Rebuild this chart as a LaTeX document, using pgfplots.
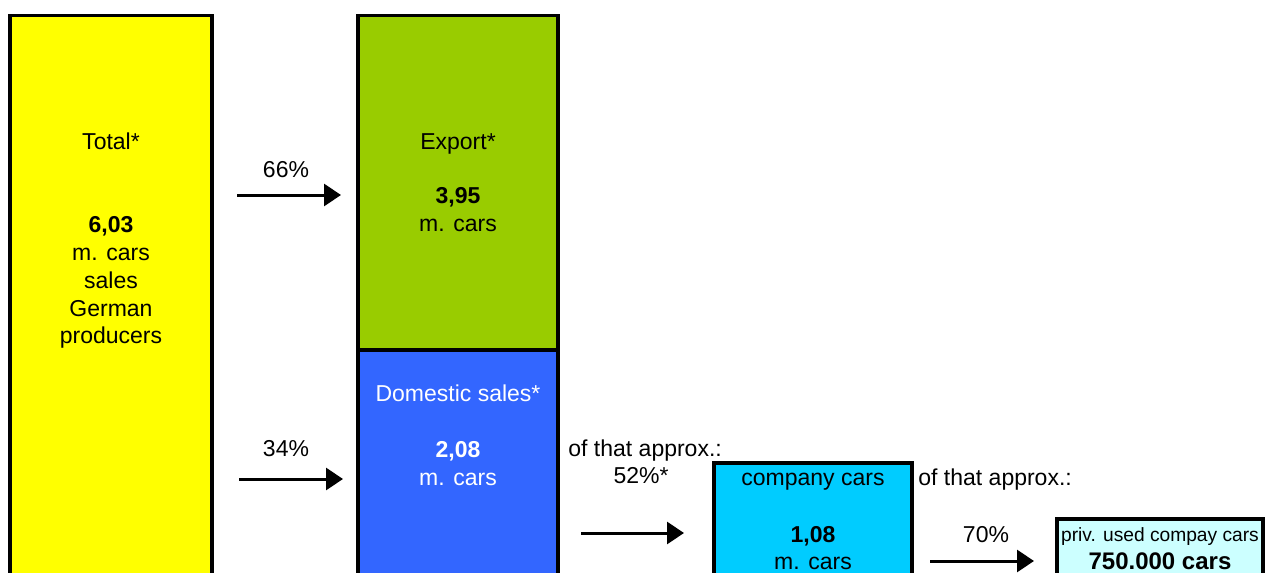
\documentclass[border=0pt]{standalone}
\usepackage{pgfplots}
\pgfplotsset{compat=1.18}
\usetikzlibrary{arrows.meta}
\usepackage{fontspec}
\setmainfont{Liberation Sans}
\definecolor{cTotal}{HTML}{FFFF00}
\definecolor{cExport}{HTML}{99CC00}
\definecolor{cDom}{HTML}{3366FF}
\definecolor{cComp}{HTML}{00CCFF}
\definecolor{cPriv}{HTML}{CCFFFF}
\begin{document}
\begin{tikzpicture}
\fontsize{11.5}{14}\selectfont
\begin{axis}[
  scale only axis, width=632.5pt, height=286.5pt,
  xmin=0, xmax=1265, ymin=0, ymax=573, y dir=reverse,
  axis lines=none, clip=true,
  every axis plot/.append style={line width=1.7pt, line join=miter},
]
% bars (pixel coordinates of the boxes: left, top, right, bottom beyond the frame)
\addplot[draw=black, fill=cTotal] coordinates {(10,590) (10,15.5) (212,15.5) (212,590)} -- cycle;
\addplot[draw=black, fill=cExport] coordinates {(358,350) (358,15.5) (558,15.5) (558,350)} -- cycle;
\addplot[draw=black, fill=cDom] coordinates {(358,590) (358,350) (558,350) (558,590)} -- cycle;
\addplot[draw=black, fill=cComp] coordinates {(714,590) (714,463) (912,463) (912,590)} -- cycle;
\addplot[draw=black, fill=cPriv] coordinates {(1057,590) (1057,519) (1263,519) (1263,590)} -- cycle;

% arrows
\addplot[black, line width=1.5pt, -{Triangle[length=8.5pt,width=11pt]}] coordinates {(237,195) (341,195)};
\addplot[black, line width=1.5pt, -{Triangle[length=8.5pt,width=11pt]}] coordinates {(239,479) (343,479)};
\addplot[black, line width=1.5pt, -{Triangle[length=8.5pt,width=11pt]}] coordinates {(581,533) (684,533)};
\addplot[black, line width=1.5pt, -{Triangle[length=8.5pt,width=11pt]}] coordinates {(930,561) (1034,561)};

% Total
\node[anchor=base] at (axis cs:111,149) {Total*};
\node[anchor=base] at (axis cs:111,232) {\bfseries 6,03};
\node[anchor=base] at (axis cs:111,260) {m. cars};
\node[anchor=base] at (axis cs:111,288) {sales};
\node[anchor=base] at (axis cs:111,316) {German};
\node[anchor=base] at (axis cs:111,343) {producers};
% percentages
\node[anchor=base] at (axis cs:286,177) {66\%};
\node[anchor=base] at (axis cs:286,456) {34\%};
% Export
\node[anchor=base] at (axis cs:458,149) {Export*};
\node[anchor=base] at (axis cs:458,203) {\bfseries 3,95};
\node[anchor=base] at (axis cs:458,231) {m. cars};
% Domestic
\node[anchor=base, text=white] at (axis cs:458,401) {Domestic sales*};
\node[anchor=base, text=white] at (axis cs:458,457) {\bfseries 2,08};
\node[anchor=base, text=white] at (axis cs:458,485) {m. cars};
% of that approx 52%
\node[anchor=base west, inner sep=0pt] at (axis cs:568,456) {of that approx.:};
\node[anchor=base] at (axis cs:641,483) {52\%*};
% company cars
\node[anchor=base] at (axis cs:813,485) {company cars};
\node[anchor=base] at (axis cs:813,542) {\bfseries 1,08};
\node[anchor=base] at (axis cs:813,569) {m. cars};
\node[anchor=base west, inner sep=0pt] at (axis cs:918,485) {of that approx.:};
\node[anchor=base] at (axis cs:986,542) {70\%};
% private
\node[anchor=base, inner sep=0pt] at (axis cs:1160,541) {\fontsize{9.6}{11}\selectfont priv. used compay cars};
\node[anchor=base, inner sep=0pt] at (axis cs:1160,569) {\fontsize{12}{14}\selectfont\bfseries 750.000 cars};
\end{axis}
\pgfresetboundingbox
\useasboundingbox (current axis.south west) rectangle (current axis.north east);
\end{tikzpicture}
\end{document}
